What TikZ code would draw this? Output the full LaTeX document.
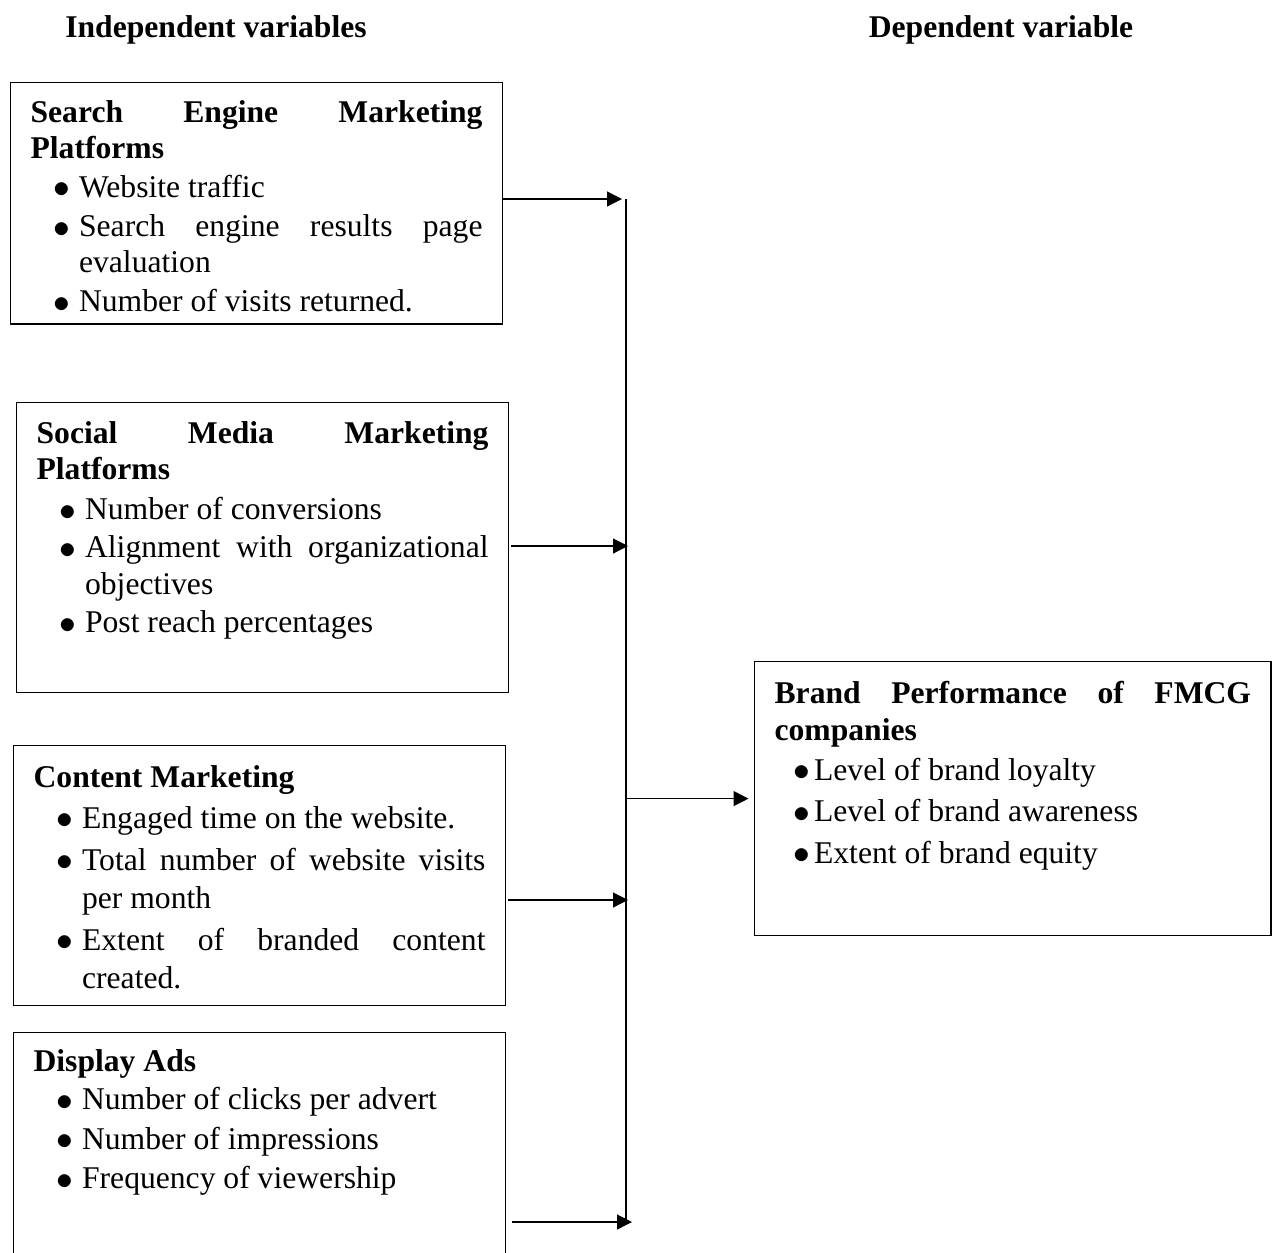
\documentclass[tikz,border=0pt]{standalone}
\usepackage{fontspec}
\setmainfont{Liberation Serif}
\usepackage{enumitem}
\usepackage{tikz}
\usetikzlibrary{arrows.meta,positioning}

\newcommand{\dotmark}{\raisebox{-0.02em}{\scalebox{1.1}{\(\bullet\)}}}
\setlist[itemize]{label=\dotmark,leftmargin=0.97cm,labelsep=0.18cm,itemsep=2pt,topsep=1.7pt,parsep=0pt,partopsep=0pt}
\hyphenpenalty=10000
\exhyphenpenalty=10000
\tolerance=10000
% box body: height, width, text
\newcommand{\boxbody}[3]{\begin{minipage}[t][#1][t]{#2}#3\end{minipage}}

\begin{document}
\begin{tikzpicture}[x=0.02cm,y=-0.02cm,
  varbox/.style={draw,line width=0.7pt,anchor=north west,inner xsep=0.4cm,font=\fontsize{18}{20.4}\selectfont},
  head/.style={anchor=base,font=\fontsize{18}{20.4}\selectfont\bfseries},
  feed/.style={-{Triangle[length=0.3cm,width=0.3cm]},line width=0.7pt}]
\useasboundingbox (0,0) rectangle (1272,1252);

% Headings
\node[head] (indep) at (216,37) {Independent variables};
\node[head] (dep) at (1001,37) {Dependent variable};

% Independent variables
\node[varbox,inner ysep=0.36cm] (sem) at (10,82) {\boxbody{4.11cm}{9.04cm}{%
\textbf{Search Engine Marketing Platforms}
\begin{itemize}
\item Website traffic
\item Search engine results page evaluation
\item Number of visits returned.
\end{itemize}}};

\node[varbox,inner ysep=0.37cm,font=\fontsize{18}{21}\selectfont] (smm) at (16,402) {\boxbody{5.06cm}{9.04cm}{%
\textbf{Social Media Marketing Platforms}
\begin{itemize}[itemsep=0.6pt]
\item Number of conversions
\item Alignment with organizational objectives
\item Post reach percentages
\end{itemize}}};

\node[varbox,inner ysep=0.39cm,font=\fontsize{18}{21.8}\selectfont] (cm) at (13,745) {\boxbody{4.42cm}{9.04cm}{%
\textbf{Content Marketing}
\begin{itemize}
\item Engaged time on the website.
\item Total number of website visits per month
\item Extent of branded content created.
\end{itemize}}};

\node[varbox,inner ysep=0.33cm] (da) at (13,1032) {\boxbody{4.14cm}{9.04cm}{%
\textbf{Display Ads}
\begin{itemize}
\item Number of clicks per advert
\item Number of impressions
\item Frequency of viewership
\end{itemize}}};

% Dependent variable
\node[varbox,inner ysep=0.39cm,font=\fontsize{18}{21}\selectfont] (bp) at (754,661) {\boxbody{4.70cm}{9.53cm}{%
\textbf{Brand Performance of FMCG companies}
\begin{itemize}[leftmargin=0.79cm,labelsep=0.08cm,itemsep=2.6pt]
\item Level of brand loyalty
\item Level of brand awareness
\item Extent of brand equity
\end{itemize}}};

% Connectors
\coordinate (bustop) at (626,199);
\coordinate (busend) at (626,1222);
\draw[line width=1.1pt] (bustop) -- (busend);
\draw[feed] (sem.east |- bustop) -- ([xshift=-0.08cm]bustop);
\coordinate (j2) at (628,546);
\draw[feed,shorten <=0.04cm] (smm.east |- j2) -- (j2);
\draw[feed] (bustop |- bp.west) -- ([xshift=-0.11cm]bp.west);
\coordinate (j4) at (628,900);
\draw[feed,shorten <=0.04cm] (cm.east |- j4) -- (j4);
\coordinate (j5) at (632,1222);
\draw[feed,shorten <=0.11cm] (da.east |- j5) -- (j5);
\end{tikzpicture}
\end{document}
